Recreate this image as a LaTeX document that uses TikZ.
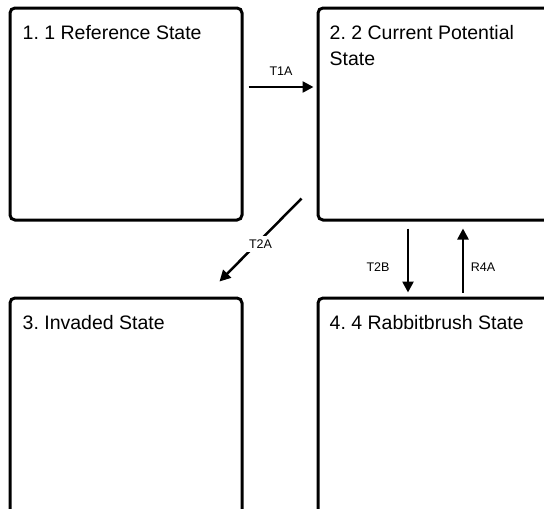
\documentclass[tikz,border=0pt]{standalone}
\usepackage{fontspec}
\setmainfont{Liberation Sans}
\usetikzlibrary{arrows.meta}
\frenchspacing
\begin{document}
\begin{tikzpicture}[x=1pt,y=-1pt,
  statebox/.style={draw=black,line width=3pt,rounded corners=5pt,fill=white,
    minimum width=232pt,minimum height=212pt,inner sep=0pt},
  statetitle/.style={anchor=base west,inner sep=0pt,align=left,
    font=\fontsize{19.5}{26}\selectfont},
  trans/.style={line width=2.5pt,-{Triangle[length=11pt,width=11pt]}},
  translabel/.style={font=\fontsize{12.5}{14}\selectfont,inner sep=2pt}]
\useasboundingbox (0,0) rectangle (544,509);
\node[statebox] (b1) at (126,114) {};
\node[statebox] (b2) at (434,114) {};
\node[statebox,minimum height=222pt] (b3) at (126,409) {};
\node[statebox,minimum height=222pt] (b4) at (434,409) {};
\node[statetitle] (t1) at ([shift={(14,33)}]b1.north west) {1. 1 Reference State};
\node[statetitle] (t2) at ([shift={(13,59)}]b2.north west) {2. 2 Current Potential\\State};
\node[statetitle] (t3) at ([shift={(14,33)}]b3.north west) {3. Invaded State};
\node[statetitle] (t4) at ([shift={(13,33)}]b4.north west) {4. 4 Rabbitbrush State};
\draw[trans] ([shift={(5,-27)}]b1.east) -- ([shift={(-3,-27)}]b2.west)
  node[translabel,midway,yshift=16] (l1) {T1A};
\draw[trans] ([shift={(-15,-23)}]b2.south west) -- ([shift={(-24,-15)}]b3.north east)
  node[translabel,midway,yshift=-4,fill=white,inner sep=4pt] (l2) {T2A};
\draw[trans] ([shift={(-26,7)}]b2.south) -- ([shift={(-26,-4)}]b4.north)
  node[translabel,pos=0.6,xshift=-30] (l3) {T2B};
\draw[trans] ([shift={(29,-4)}]b4.north) -- ([shift={(29,7)}]b2.south)
  node[translabel,pos=0.4,xshift=20] (l4) {R4A};
\end{tikzpicture}
\end{document}
